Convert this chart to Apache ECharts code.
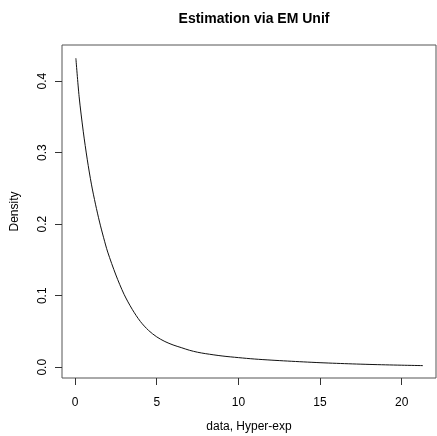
<!DOCTYPE html>
<html>
<head>
<meta charset="utf-8">
<script src="https://cdn.jsdelivr.net/npm/echarts@6/dist/echarts.min.js"></script>
<style>
    html, body { margin: 0; padding: 0; background: #fff; }
    #chart { width: 437px; height: 436px; }
</style>
</head>
<body>
<div id="chart"></div>
<script>
    // density curve
    var xs = [0.05, 0.25, 0.5, 0.75, 1.0, 1.25, 1.5, 1.75, 2.0, 2.5, 3.0, 3.5, 4.0, 4.5,
              5.0, 5.5, 6.0, 6.5, 7.0, 7.5, 8.0, 9.0, 10.0, 11.0, 12.0, 13.0, 14.0,
              15.0, 16.0, 17.0, 18.0, 19.0, 20.0, 21.3];
    var density = [0.432, 0.378, 0.330, 0.290, 0.256, 0.228, 0.203, 0.181, 0.161, 0.129,
                   0.102, 0.081, 0.064, 0.0515, 0.0425, 0.0360, 0.0312, 0.0275, 0.0238, 0.0210,
                   0.0190, 0.0158, 0.0135, 0.0115, 0.0100, 0.0087, 0.0075, 0.0064, 0.0055,
                   0.0047, 0.0040, 0.0034, 0.0029, 0.0023];
    var xTicks = [0, 20, 5];   // min, max, step
    var yTicks = [0, 0.4, 0.1];

    var font = "'Liberation Sans', Arial, sans-serif";
    var points = [];
    for (var i = 0; i < xs.length; i++) {
        points.push([xs[i], density[i]]);
    }

    // plot box in pixels, R style (range padded 4%)
    var box = { left: 62, right: 436, top: 45, bottom: 378 };
    var xMin = -0.8, xMax = 22.1, yMin = -0.015, yMax = 0.4505;
    var pxX = (box.right - box.left) / (xMax - xMin);
    var pxY = (box.bottom - box.top) / (yMax - yMin);

    var tickStyle = { show: true, inside: false, length: 7, lineStyle: { color: '#333' } };
    var labelFont = { fontFamily: font, fontSize: 12, color: '#000' };

    var myChart = echarts.init(document.getElementById('chart'));
    var option = {
        animation: false,
        backgroundColor: '#fff',
        title: {
            text: 'Estimation via EM Unif',
            left: 249,
            top: 7,
            textAlign: 'center',
            textStyle: { fontFamily: font, fontSize: 14, fontWeight: 'bold', color: '#000' }
        },
        grid: [
            {   // main plot with box
                left: box.left, width: box.right - box.left, top: box.top, height: box.bottom - box.top,
                outerBoundsMode: 'none', containLabel: false,
                show: true, borderColor: '#555', borderWidth: 1
            },
            {   // x ticks only
                left: box.left + (xTicks[0] - xMin) * pxX, width: (xTicks[1] - xTicks[0]) * pxX,
                top: box.top, height: box.bottom - box.top,
                outerBoundsMode: 'none', containLabel: false
            },
            {   // y ticks only
                left: box.left, width: box.right - box.left,
                top: box.top + (yMax - yTicks[1]) * pxY, height: (yTicks[1] - yTicks[0]) * pxY,
                outerBoundsMode: 'none', containLabel: false
            }
        ],
        xAxis: [
            {
                gridIndex: 0, type: 'value', min: xMin, max: xMax,
                name: 'data, Hyper-exp', nameLocation: 'middle', nameGap: 43,
                nameTextStyle: labelFont,
                splitLine: { show: false }, axisLine: { show: false },
                axisTick: { show: false }, axisLabel: { show: false }
            },
            {
                gridIndex: 1, type: 'value', min: xTicks[0], max: xTicks[1], interval: xTicks[2],
                splitLine: { show: false }, axisLine: { show: false },
                axisTick: tickStyle,
                axisLabel: { margin: 19, fontFamily: font, fontSize: 12, color: '#000' }
            },
            {
                gridIndex: 2, type: 'value', show: false
            }
        ],
        yAxis: [
            {
                gridIndex: 0, type: 'value', min: yMin, max: yMax,
                name: 'Density', nameLocation: 'middle', nameGap: 41,
                nameTextStyle: labelFont,
                splitLine: { show: false }, axisLine: { show: false },
                axisTick: { show: false }, axisLabel: { show: false }
            },
            {
                gridIndex: 1, type: 'value', show: false
            },
            {
                gridIndex: 2, type: 'value', min: yTicks[0], max: yTicks[1], interval: yTicks[2],
                splitLine: { show: false }, axisLine: { show: false },
                axisTick: tickStyle,
                axisLabel: {
                    rotate: 90, margin: 13,
                    fontFamily: font, fontSize: 12, color: '#000',
                    formatter: function (v) { return v.toFixed(1); }
                }
            }
        ],
        series: [{
            type: 'line',
            xAxisIndex: 0, yAxisIndex: 0,
            data: points,
            symbol: 'none',
            smooth: 0.3,
            lineStyle: { color: '#111', width: 1 }
        }]
    };
    myChart.setOption(option);
</script>
</body>
</html>
